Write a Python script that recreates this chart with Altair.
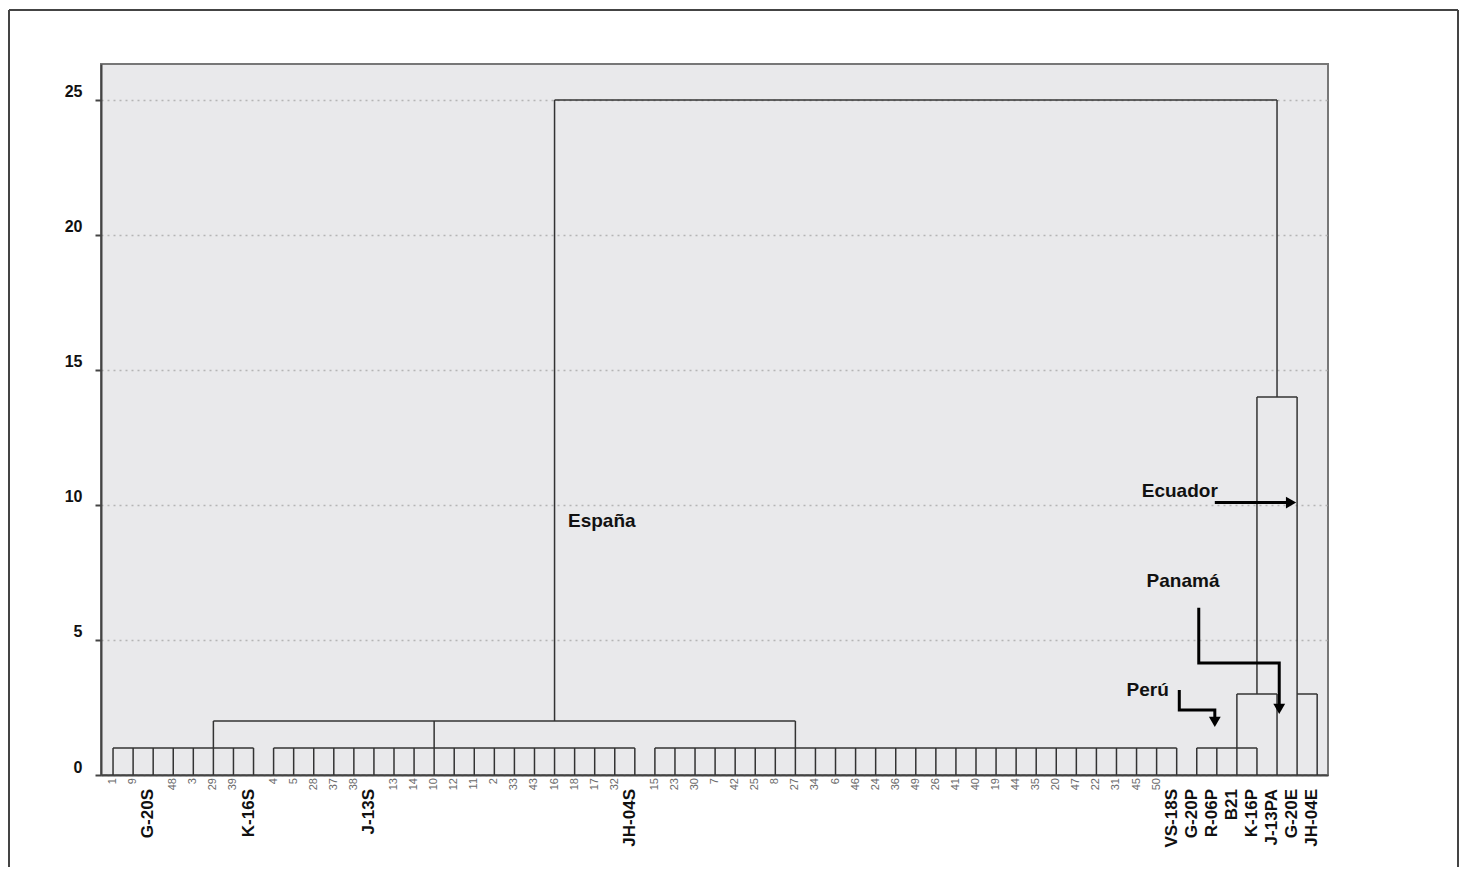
import altair as alt
import pandas as pd

# ---------------- data ----------------
leaf_labels = ["1", "9", "G-20S", "48", "3", "29", "39", "K-16S",
               "4", "5", "28", "37", "38", "J-13S", "13", "14", "10", "12", "11", "2",
               "33", "43", "16", "18", "17", "32", "JH-04S",
               "15", "23", "30", "7", "42", "25", "8", "27", "34", "6", "46", "24", "36",
               "49", "26", "41", "40", "19", "44", "35", "20", "47", "22", "31", "45", "50",
               "VS-18S", "G-20P", "R-06P", "B21", "K-16P", "J-13PA", "G-20E", "JH-04E"]
leaf_tops = [1] * 56 + [3, 1, 3, 14, 3]

# horizontal joins: height, first leaf, last leaf
row_height = [1, 1, 1, 1, 2, 3, 3, 14, 25]
row_from = [0, 8, 27, 54, 5, 56, 59, 57, 22]
row_to = [7, 26, 53, 57, 34, 58, 60, 59, 58]

# vertical links between levels: leaf position, from height, to height
link_idx = [5, 16, 34, 22, 57, 58]
link_from = [1, 1, 1, 2, 3, 14]
link_to = [2, 2, 2, 25, 14, 25]

# annotations
note_text = ["España", "Ecuador", "Panamá", "Perú"]
note_x = [22.67, 51.26, 51.5, 50.5]
note_y = [9.19, 10.3, 6.97, 2.93]

# arrows (paths) and heads
arrow_id = ["ec", "ec", "pa", "pa", "pa", "pa", "pe", "pe", "pe", "pe"]
arrow_x = [54.9, 58.5, 54.1, 54.1, 58.11, 58.11, 53.13, 53.13, 54.9, 54.9]
arrow_y = [10.09, 10.09, 6.19, 4.15, 4.15, 2.55, 3.15, 2.41, 2.41, 2.1]
head_x = [58.7, 58.11, 54.9]
head_y = [10.09, 2.45, 1.97]
head_shape = ["triangle-right", "triangle-down", "triangle-down"]

y_ticks = [0, 5, 10, 15, 20, 25]

# ---------------- frames ----------------
leaves = pd.DataFrame({
    "idx": list(range(len(leaf_labels))),
    "label": leaf_labels,
    "top": leaf_tops,
    "base": [0] * len(leaf_labels),
})
leaves["named"] = [not l.isdigit() for l in leaf_labels]
rows = pd.DataFrame({"h": row_height, "x0": row_from, "x1": row_to})
links = pd.DataFrame({"idx": link_idx, "y0": link_from, "y1": link_to})
notes = pd.DataFrame({"t": note_text, "x": note_x, "y": note_y})
arrows = pd.DataFrame({"a": arrow_id, "x": arrow_x, "y": arrow_y,
                       "o": list(range(len(arrow_x)))})
heads = pd.DataFrame({"x": head_x, "y": head_y, "s": head_shape})

W, H = 1227, 711
FONT = "Liberation Sans"
LINE = "#333333"

xs = alt.Scale(domain=[-0.6, 60.54], nice=False, zero=False)
ys = alt.Scale(domain=[0, 26.333], nice=False, zero=False)
x_axis = alt.Axis(labels=False, ticks=False, title=None, grid=False,
                  domainColor="#444444", domainWidth=2)
y_axis = alt.Axis(values=y_ticks, title=None, grid=True, gridDash=[2, 4],
                  gridColor="#b5b5b5", gridWidth=1.5, domainColor="#444444",
                  domainWidth=2, tickColor="#444444", tickWidth=2, tickSize=6,
                  labelFont=FONT, labelFontWeight="bold", labelFontSize=16,
                  labelColor="#111111", labelPadding=13, labelBaseline="bottom")


def X(field):
    return alt.X(field, type="quantitative", scale=xs, axis=x_axis)


def Y(field):
    return alt.Y(field, type="quantitative", scale=ys, axis=y_axis)


leaf_lines = alt.Chart(leaves).mark_rule(color=LINE, strokeWidth=1.5).encode(
    x=X("idx"), y=Y("base"), y2="top")
row_lines = alt.Chart(rows).mark_rule(color=LINE, strokeWidth=1.5).encode(
    x=X("x0"), x2="x1", y=Y("h"))
link_lines = alt.Chart(links).mark_rule(color=LINE, strokeWidth=1.5).encode(
    x=X("idx"), y=Y("y0"), y2="y1")

num_labels = alt.Chart(leaves).transform_filter("!datum.named").mark_text(
    angle=270, align="right", baseline="middle", dx=-3, font=FONT,
    fontSize=11, color="#6a6a6a").encode(x=X("idx"), y=Y("base"), text="label")
name_labels = alt.Chart(leaves).transform_filter("datum.named").mark_text(
    angle=270, align="right", baseline="alphabetic", dx=-14, font=FONT,
    fontSize=17, fontWeight="bold", color="#111111").encode(
    x=X("idx"), y=Y("base"), text="label")

note_marks = alt.Chart(notes).mark_text(
    align="left", baseline="alphabetic", font=FONT, fontSize=19,
    fontWeight="bold", color="#111111").encode(x=X("x"), y=Y("y"), text="t")

arrow_lines = alt.Chart(arrows).mark_line(
    color="#000000", strokeWidth=3, strokeJoin="miter", strokeCap="butt").encode(
    x=X("x"), y=Y("y"), detail="a", order="o")
arrow_heads = alt.Chart(heads).mark_point(
    filled=True, color="#000000", size=140, opacity=1).encode(
    x=X("x"), y=Y("y"),
    shape=alt.Shape("s:N", scale=None))

frame = pd.DataFrame({"k": [0]})
frame_left = alt.Chart(frame).mark_rule(color="#444444", strokeWidth=2).encode(
    x=alt.value(-92), y=alt.value(-54), y2=alt.value(H + 200))
frame_top = alt.Chart(frame).mark_rule(color="#444444", strokeWidth=2).encode(
    x=alt.value(-92), x2=alt.value(1357), y=alt.value(-54))
frame_right = alt.Chart(frame).mark_rule(color="#444444", strokeWidth=2).encode(
    x=alt.value(1357), y=alt.value(-54), y2=alt.value(H + 200))

chart = alt.layer(
    leaf_lines, row_lines, link_lines, num_labels, name_labels,
    note_marks, arrow_lines, arrow_heads, frame_left, frame_top, frame_right
).properties(
    width=W, height=H,
    autosize=alt.AutoSizeParams(type="none"),
    padding={"left": 93, "top": 56, "right": 131, "bottom": 92},
    background="#ffffff",
).configure_view(
    fill="#e9e9eb", stroke="#777777", strokeWidth=2
)

chart.save("out.html", embed_options={"renderer": "svg", "actions": False})
